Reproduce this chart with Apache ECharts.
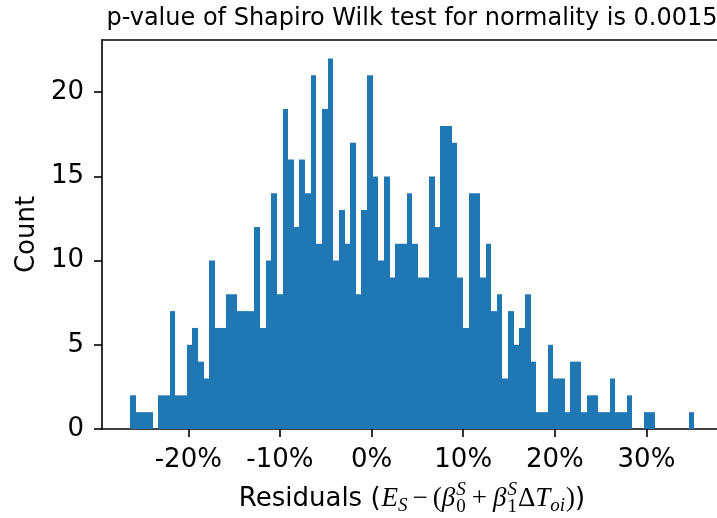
<!DOCTYPE html>
<html>
<head>
<meta charset="utf-8">
<script src="https://cdn.jsdelivr.net/npm/echarts@6/dist/echarts.min.js"></script>
<style>
  html, body { margin: 0; padding: 0; background: #ffffff; }
  #chart { width: 717px; height: 518px; }
</style>
</head>
<body>
<div id="chart"></div>
<script>
// Histogram of regression residuals (in %), 100 equal-width bins
const binStart = -26.34;   // left edge of the first bin, %
const binWidth = 0.6156;   // width of one bin, %
const counts = [
  2, 1, 1, 1, 0, 2, 2, 7, 2, 2, 5, 6, 4, 3, 10, 6, 6,
  8, 8, 7, 7, 7, 12, 6, 10, 14, 8, 19, 16, 12, 16, 14, 21, 11, 19, 22, 10, 13, 11,
  17, 8, 13, 21, 15, 10, 15, 9, 11, 11, 14, 11, 9, 9, 15, 12, 18, 18, 17, 9,
  6, 14, 14, 9, 11, 7, 8, 3, 7, 5, 6, 8, 4, 1, 1, 5, 3, 3, 1,
  4, 4, 1, 2, 2, 1, 1, 3, 1, 1, 2, 0, 0, 1, 1, 0, 0, 0, 0, 0, 0, 1
];
const xTicks = [-20, -10, 0, 10, 20, 30];
const yTicks = [0, 5, 10, 15, 20];

const titleText = 'p-value of Shapiro Wilk test for normality is 0.0015';
const yLabel = 'Count';

const xMin = -29.42, xMax = 37.70;
const yMin = 0, yMax = 23.1;

const BLUE = '#1f77b4';
const SANS = 'DejaVu Sans';
const SERIF = 'Liberation Serif';

const bins = counts.map((c, i) => [binStart + i * binWidth, binStart + (i + 1) * binWidth, c]);

const chart = echarts.init(document.getElementById('chart'), null, { renderer: 'canvas' });

// text measuring helpers for the composed axis title
const mctx = document.createElement('canvas').getContext('2d');
function textWidth(font, s) { mctx.font = font; mctx.textBaseline = 'middle'; return mctx.measureText(s).width; }
function midToBase(font) { mctx.font = font; mctx.textBaseline = 'middle'; return mctx.measureText('H').actualBoundingBoxDescent; }

const GRID = { left: 102, right: 0, top: 40, bottom: 89 };
const plotCenterX = 412;

// pieces of "Residuals (E_S − (β_0^S + β_1^S ΔT_oi))"
const F = 26, M = 27, f = 19;
const pieces = [
  { t: 'Residuals (', fam: SANS, size: F },
  { gap: 1 },
  { t: 'E', fam: SERIF, size: M, it: true },
  { t: 'S', fam: SERIF, size: f, it: true, dy: 5 },
  { gap: 5 },
  { t: '\u2212', fam: SERIF, size: M },
  { gap: 5 },
  { t: '(', fam: SERIF, size: M },
  { t: '\u03b2', fam: SERIF, size: M, it: true },
  { gap: 1 },
  { stack: [ { t: 'S', fam: SERIF, size: f, it: true, dy: -11 }, { t: '0', fam: SERIF, size: f, dy: 6 } ] },
  { gap: 6 },
  { t: '+', fam: SERIF, size: M },
  { gap: 6 },
  { t: '\u03b2', fam: SERIF, size: M, it: true },
  { gap: 1 },
  { stack: [ { t: 'S', fam: SERIF, size: f, it: true, dy: -11 }, { t: '1', fam: SERIF, size: f, dy: 6 } ] },
  { gap: 1 },
  { t: '\u0394', fam: SERIF, size: M },
  { t: 'T', fam: SERIF, size: M, it: true },
  { t: 'oi', fam: SERIF, size: f, it: true, dy: 5 },
  { gap: 1 },
  { t: ')', fam: SERIF, size: M },
  { t: ')', fam: SANS, size: F }
];
function fontOf(p) { return (p.it ? 'italic ' : '') + p.size + 'px "' + p.fam + '"'; }

function buildLabel(cx, baseY) {
  const els = [];
  let x = 0;
  const place = (p, px) => {
    const font = fontOf(p);
    els.push({ type: 'text', x: px, y: baseY + (p.dy || 0) - midToBase(font),
      style: { text: p.t, font: font, fill: '#000', align: 'left', verticalAlign: 'middle' } });
    return textWidth(font, p.t);
  };
  pieces.forEach(p => {
    if (p.gap) { x += p.gap; return; }
    if (p.stack) { let w = 0; p.stack.forEach(q => { w = Math.max(w, place(q, x)); }); x += w; return; }
    x += place(p, x);
  });
  const shift = cx - x / 2;
  els.forEach(e => { e.x += shift; });
  return els;
}

const titleFont = '24px "' + SANS + '"';

const option = {
  animation: false,
  backgroundColor: '#ffffff',
  grid: GRID,
  xAxis: [
    {
      type: 'value', min: xMin, max: xMax, position: 'bottom',
      axisLine: { show: true, onZero: false, lineStyle: { color: '#000', width: 1.6 } },
      axisTick: { show: true, customValues: xTicks, length: 8, lineStyle: { color: '#000', width: 1.6 } },
      axisLabel: { show: true, customValues: xTicks, formatter: v => v + '%',
        fontSize: 26, fontFamily: SANS, color: '#000', margin: 18 },
      splitLine: { show: false }
    },
    {
      type: 'value', min: xMin, max: xMax, position: 'top',
      axisLine: { show: true, onZero: false, lineStyle: { color: '#000', width: 1.6 } },
      axisTick: { show: false }, axisLabel: { show: false }, splitLine: { show: false }
    }
  ],
  yAxis: {
    type: 'value', min: yMin, max: yMax,
    name: yLabel, nameLocation: 'middle', nameGap: 58,
    nameTextStyle: { fontSize: 26, fontFamily: SANS, color: '#000' },
    axisLine: { show: true, onZero: false, lineStyle: { color: '#000', width: 1.6 } },
    axisTick: { show: true, customValues: yTicks, length: 8, lineStyle: { color: '#000', width: 1.6 } },
    axisLabel: { show: true, customValues: yTicks, fontSize: 26, fontFamily: SANS, color: '#000', margin: 18 },
    splitLine: { show: false }
  },
  series: [{
    type: 'custom',
    xAxisIndex: 0,
    yAxisIndex: 0,
    data: bins,
    encode: { x: [0, 1], y: 2 },
    renderItem: function (params, api) {
      const c = api.value(2);
      if (!c) return null;
      const tl = api.coord([api.value(0), c]);
      const br = api.coord([api.value(1), 0]);
      // bin edges snapped to whole pixels so neighbouring bars join without seams
      const x0 = Math.round(tl[0]), x1 = Math.round(br[0]);
      return {
        type: 'rect',
        shape: { x: x0, y: tl[1], width: x1 - x0, height: br[1] - tl[1] },
        style: { fill: BLUE }
      };
    }
  }],
  graphic: [
    { type: 'text', x: plotCenterX, y: 25 - midToBase(titleFont),
      style: { text: titleText, font: titleFont, fill: '#000', align: 'center', verticalAlign: 'middle' } }
  ].concat(buildLabel(plotCenterX, 506))
};

chart.setOption(option);
</script>
</body>
</html>
